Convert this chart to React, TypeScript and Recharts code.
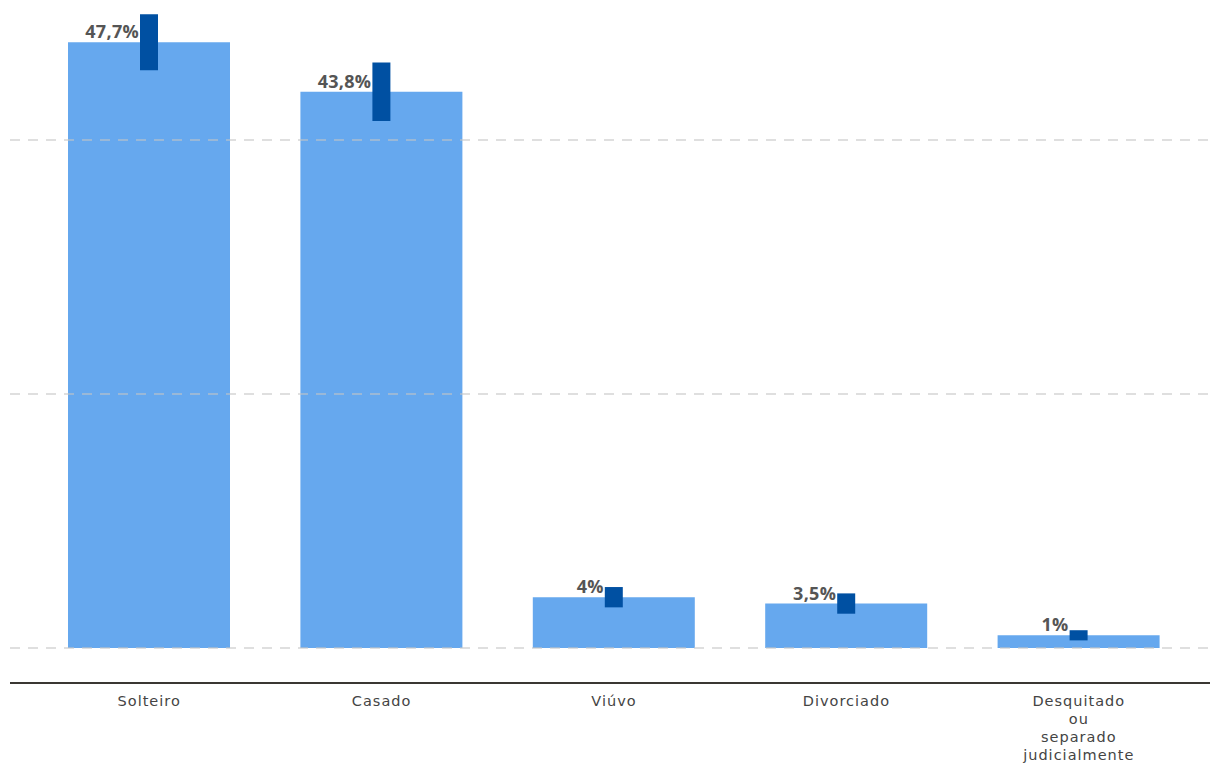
import React from "react";
import { BarChart, Bar, XAxis, YAxis, ErrorBar, LabelList, ReferenceLine } from "recharts";

const categories = ["Solteiro", "Casado", "Viúvo", "Divorciado", "Desquitado ou separado judicialmente"];
const shares = [47.7, 43.8, 4, 3.5, 1];
const margins = [2.2, 2.3, 0.8, 0.8, 0.4];
const yTicks = [0, 20, 40];

const data = categories.map((name, i) => ({ name, value: shares[i], err: margins[i] }));

const formatPct = (v: number) => String(v).replace(".", ",") + "%";

const ValueLabel = (props: any) => {
    const { x, y, width, value } = props;
    return (
        <text
            x={x + width / 2 - 10}
            y={y - 4}
            textAnchor="end"
            fill="#555"
            fontFamily="'Open Sans', sans-serif"
            fontWeight={700}
            fontSize={18}
            letterSpacing={0.3}
        >
            {formatPct(value)}
        </text>
    );
};

const CategoryTick = (props: any) => {
    const { x, y, payload } = props;
    const words = String(payload.value).split(" ");
    return (
        <text
            x={x}
            y={y}
            textAnchor="middle"
            fill="#444"
            fontFamily="'DejaVu Sans', sans-serif"
            fontSize={14.5}
            letterSpacing={1}
        >
            {words.map((w, i) => (
                <tspan key={i} x={x} dy={i === 0 ? 15 : 18}>
                    {w}
                </tspan>
            ))}
        </text>
    );
};

export default function App() {
    return (
        <div style={{ position: "absolute", left: 0, top: 0, background: "#fff" }}>
            <BarChart
                width={1210}
                height={766}
                data={data}
                margin={{ top: 13, right: 0, left: 10, bottom: 0 }}
            >
                <XAxis
                    dataKey="name"
                    height={83}
                    interval={0}
                    tickLine={false}
                    axisLine={{ stroke: "#3a3733", strokeWidth: 2 }}
                    padding={{ left: 23, right: 15 }}
                    tick={<CategoryTick />}
                />
                <YAxis hide domain={[-2.756, 50]} ticks={yTicks} allowDataOverflow />
                <Bar dataKey="value" fill="#66a8ee" barSize={162} isAnimationActive={false}>
                    <ErrorBar dataKey="err" width={0} strokeWidth={18} stroke="#0050a2" isAnimationActive={false} />
                    <LabelList dataKey="value" content={<ValueLabel />} />
                </Bar>
                {yTicks.map((t) => (
                    <ReferenceLine
                        key={t}
                        y={t}
                        stroke="#c4c4c4"
                        strokeOpacity={0.55}
                        strokeWidth={2}
                        strokeDasharray="10 8"
                    />
                ))}
            </BarChart>
        </div>
    );
}
